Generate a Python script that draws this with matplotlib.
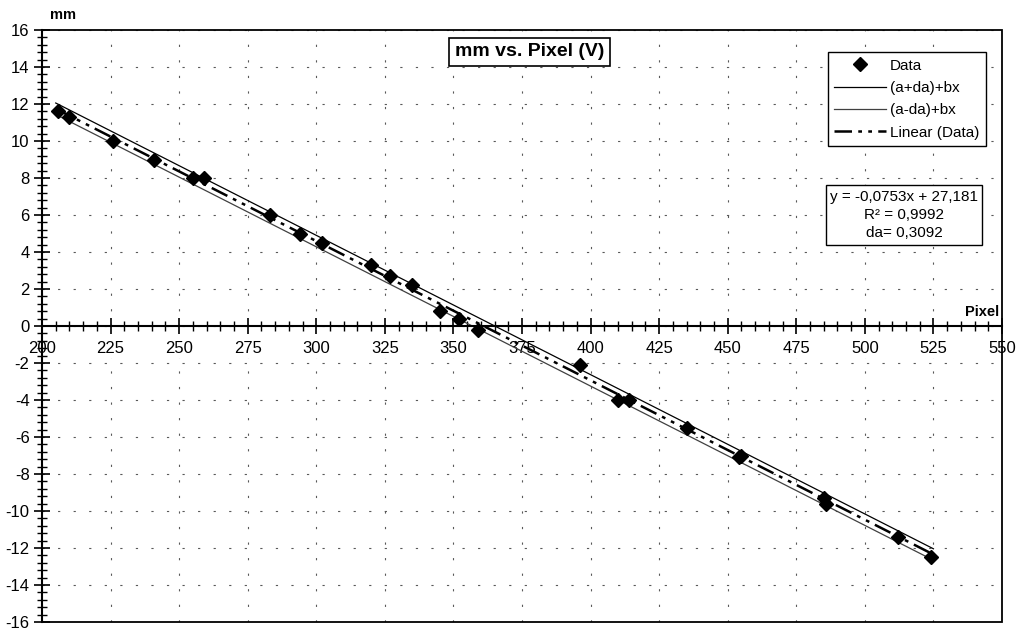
"""Recreate the 'mm vs. Pixel (V)' calibration chart."""

import numpy as np
import matplotlib
matplotlib.use("Agg")
import matplotlib.pyplot as plt
from matplotlib.patches import Rectangle
from matplotlib.ticker import MultipleLocator

plt.rcParams["font.family"] = ["Liberation Sans", "DejaVu Sans"]
plt.rcParams["axes.unicode_minus"] = False

pixel = [206, 210, 226, 241, 255, 259, 283, 294, 302, 320, 327, 335, 345,
         352, 359, 396, 410, 414, 435, 454, 455, 485, 486, 512, 524]
mm = [11.6, 11.3, 10.0, 9.0, 8.0, 8.0, 6.0, 5.0, 4.5, 3.3, 2.7, 2.2, 0.8,
      0.4, -0.2, -2.1, -4.0, -4.0, -5.5, -7.1, -7.0, -9.3, -9.6, -11.4, -12.5]

# linear fit shown in the chart
slope = -0.0753
intercept = 27.181
da = 0.3092
fit_range = [205, 525]

x_ticks = [200, 225, 250, 275, 300, 325, 350, 375, 400, 425, 450, 475, 500, 525, 550]
y_ticks = [16, 14, 12, 10, 8, 6, 4, 2, 0, -2, -4, -6, -8, -10, -12, -14, -16]


def main():
    fig = plt.figure(figsize=(10.16, 6.34), dpi=100)
    ax = fig.add_axes([42 / 1016, 1 - 622 / 634, 960 / 1016, 592 / 634])

    xs = np.array(fit_range, dtype=float)
    ax.plot(xs, (intercept + da) + slope * xs, color="black", lw=0.9,
            label="(a+da)+bx", zorder=2)
    ax.plot(xs, (intercept - da) + slope * xs, color="0.25", lw=0.9,
            label="(a-da)+bx", zorder=2)
    ax.plot(xs, intercept + slope * xs, color="black", lw=1.8,
            dashes=(7, 2.5, 1.5, 2.5, 1.5, 2.5), label="Linear (Data)", zorder=2)
    ax.plot(pixel, mm, linestyle="none", marker="D", markersize=7,
            color="black", label="Data", zorder=4)

    ax.set_xlim(200, 550)
    ax.set_ylim(-16, 16)

    # x axis crosses at y = 0
    ax.spines["bottom"].set_position(("data", 0))
    ax.spines["top"].set_visible(False)
    ax.spines["right"].set_visible(False)
    ax.spines["left"].set_zorder(3)
    ax.spines["bottom"].set_linewidth(1.5)
    ax.spines["left"].set_linewidth(1.5)
    ax.add_patch(Rectangle((0, 0), 1, 1, transform=ax.transAxes, fill=False,
                           edgecolor="black", lw=1.3, clip_on=False, zorder=3))

    ax.set_xticks(x_ticks)
    ax.set_yticks(y_ticks)
    ax.xaxis.set_minor_locator(MultipleLocator(5))
    ax.yaxis.set_minor_locator(MultipleLocator(0.4))
    ax.tick_params(which="major", direction="inout", length=12, width=1.2,
                   labelsize=12)
    ax.tick_params(which="minor", direction="inout", length=7, width=1.0)
    ax.tick_params(axis="x", which="major", pad=5)
    ax.tick_params(axis="y", which="major", pad=3)
    for lbl in ax.get_xticklabels():
        lbl.set_bbox(dict(facecolor="white", edgecolor="none", pad=1))

    ax.grid(True, which="major", color="0.35", lw=0.8, linestyle=(0, (2, 12)))

    ax.text(0.508, 0.963, "mm vs. Pixel (V)", transform=ax.transAxes,
            ha="center", va="center", fontsize=14, fontweight="bold",
            bbox=dict(facecolor="white", edgecolor="black", lw=1.2, pad=4),
            zorder=5)

    fig.text(63 / 1016, 1 - 15 / 634, "mm", ha="center", va="center",
             fontsize=10.5, fontweight="bold")
    ax.text(549, 0.4, "Pixel", ha="right", va="bottom", fontsize=10.5,
            fontweight="bold", zorder=5)

    handles, labels = ax.get_legend_handles_labels()
    order = [3, 0, 1, 2]
    leg = ax.legend([handles[i] for i in order], [labels[i] for i in order],
                    loc="upper right", bbox_to_anchor=(0.983, 0.962),
                    fontsize=11, frameon=True, fancybox=False,
                    edgecolor="black", framealpha=1, handlelength=3.4,
                    borderpad=0.4, labelspacing=0.55, handletextpad=0.3,
                    borderaxespad=0)
    leg.get_frame().set_linewidth(1.0)
    leg.set_zorder(5)

    ax.text(0.898, 0.6875,
            "y = -0,0753x + 27,181\nR² = 0,9992\nda= 0,3092",
            transform=ax.transAxes, ha="center", va="center", fontsize=11,
            multialignment="center", linespacing=1.4,
            bbox=dict(facecolor="white", edgecolor="black", lw=1.0, pad=3),
            zorder=5)

    fig.savefig("out.png", dpi=100)
    plt.close(fig)


if __name__ == "__main__":
    main()
